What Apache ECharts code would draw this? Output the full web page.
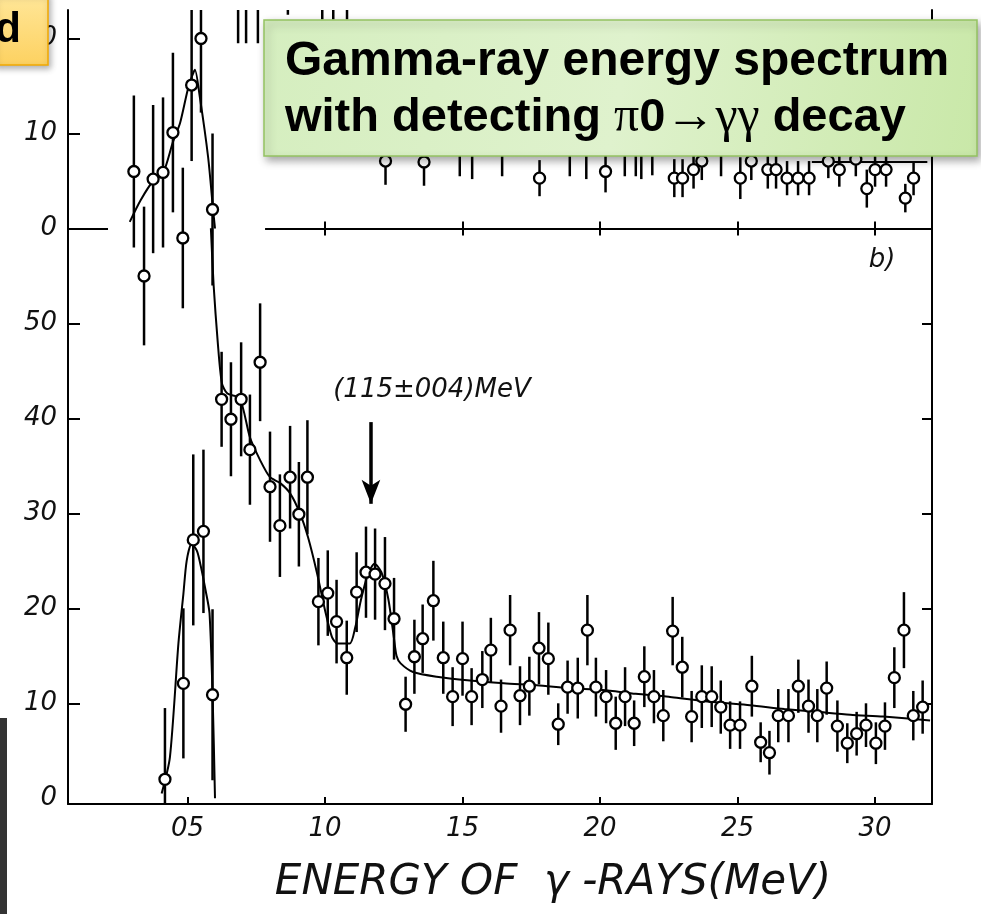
<!DOCTYPE html>
<html><head><meta charset="utf-8">
<script src="https://cdn.jsdelivr.net/npm/echarts@6/dist/echarts.min.js"></script>
<style>html,body{margin:0;padding:0;background:#fff;}#c{width:981px;height:914px;}</style>
</head><body><div id="c"></div>
<script>
// ---- tick labels ----
const xTicks = [5, 10, 15, 20, 25, 30];
const xTickLabels = ['05', '10', '15', '20', '25', '30'];
const yTicksLower = [0, 10, 20, 30, 40, 50];
const yTicksUpper = [0, 10, 20];

// ---- upper panel (b) ----
const upperE = [3.05,3.42,3.75,4.11,4.47,4.83,5.15,5.49,5.91, 6.84,7.13,7.56,8.65,9.9,10.3,10.8,
  12.2,13.6,14.9,15.35,16.44,17.8,18.9,19.5,20.2,20.9, 21.3,21.5,21.9,22.7,23.0,23.4,23.7,24.4,25.1,25.5,
  26.1,26.4,26.8,27.2,27.6,28.3,28.7,29.3,29.7,30.0, 30.4,31.1,31.4];
const upperCounts = [6.0,-5.0,5.2,5.9,10.1,-1.0,15.1,20.0,2.0, 27,27,26,28,28,28,28,
  7.1,7.0,9.5,9.0,9.0,5.3,9.5,9.0,6.0,9.5, 9.5,9.0,9.8,5.3,5.3,6.2,7.1,9.5,5.3,7.1,
  6.2,6.2,5.3,5.3,5.3,7.1,6.2,7.3,4.2,6.2, 6.2,3.2,5.3];
const upperErr = [8.0,7.3,7.8,7.9,8.4,7.4,8.0,7.8,8.0, 7.5,7.5,6.5,5.5,6,6,6,
  2.5,2.5,4.0,3.8,3.5,1.9,4.0,3.8,2.2,4.0, 4.0,3.8,4.2,2.0,2.0,2.0,2.0,4.0,2.2,2.0,
  2.0,2.0,1.8,1.8,1.8,1.8,1.8,1.8,2.0,1.8, 1.8,1.5,1.8];
const upperFitE = [2.9,3.3,3.75,4.11,4.47,4.73,5.0,5.16,5.27,5.45,5.75,5.93,6.0];
const upperFitV = [0.7,3.0,5.0,5.8,9.1,11.1,14.5,16.0,16.7,13.8,7.5,2.0,0.0];
const upperTailE = [27.7, 31.9];
const upperTailV = [7.0, 7.0];

// ---- lower panel ----
const lowerE = [4.18,4.85,5.21,5.58,5.91, 6.24,6.58,6.95,7.27,7.64,8.0,8.36,8.73,9.05,9.36,
  9.76,10.1,10.42,10.79,11.15,11.49,11.82,12.18,12.51,12.93, 13.25,13.55,13.94,14.3,14.64,15.0,15.33,15.72,16.03,16.4,
  16.73,17.09,17.43,17.78,18.12,18.48,18.82,19.19,19.54,19.85, 20.22,20.57,20.91,21.24,21.61,21.96,22.3,22.64,22.99,23.33,
  23.7,24.06,24.39,24.73,25.09,25.52,25.84,26.16,26.48,26.85, 27.21,27.58,27.9,28.24,28.63,28.99,29.33,29.67,30.03,30.36,
  30.7,31.05,31.39,31.73];
const lowerCounts = [2.0,12.1,27.2,28.1,10.9, 42.0,39.9,42.0,36.7,45.9,32.8,28.7,33.8,29.9,33.8,
  20.7,21.6,18.6,14.8,21.7,23.8,23.6,22.6,18.9,9.9, 14.9,16.8,20.8,14.8,10.7,14.7,10.7,12.5,15.6,9.7,
  17.7,10.8,11.8,15.8,14.7,7.8,11.7,11.6,17.7,11.7, 10.7,7.9,10.7,7.9,12.8,10.7,8.7,17.6,13.8,8.6,
  10.7,10.7,9.6,7.7,7.7,11.8,5.9,4.8,8.7,8.7, 11.8,9.7,8.7,11.6,7.6,5.8,6.8,7.7,5.8,7.6,
  12.7,17.7,8.7,9.6];
const lowerErr = [7.5,7.9,9.0,8.6,9.0, 5.0,6.0,6.0,5.8,6.2,5.8,5.4,5.4,5.5,6.0,
  4.6,4.5,4.4,3.9,4.2,4.8,4.8,4.9,4.3,2.9, 3.9,3.6,4.2,3.8,3.1,3.9,3.0,3.0,3.4,2.8,
  3.7,3.1,3.1,3.8,3.8,2.2,2.8,3.2,3.7,3.1, 2.8,2.8,3.1,2.4,3.2,2.8,2.7,3.6,3.2,2.7,
  3.3,3.2,2.8,2.5,2.5,3.2,2.1,2.3,2.8,2.8, 2.8,2.8,2.8,2.8,2.7,2.1,2.3,2.3,2.2,2.5,
  3.2,4.0,2.6,2.8];
const peakFitE = [4.06,4.36,4.67,4.85,4.97,5.15,5.35,5.5,5.65,5.8,5.92,6.0];
const peakFitV = [0.5,4.3,16.3,21.5,25.0,26.8,26.0,24.2,22.0,19.5,10.0,0.0];
const lowerFitE = [5.85,5.95,6.1,6.25,6.45,6.9,7.27,7.64,8.0,8.36,8.73,9.09,9.38,9.71,10.0,10.25,10.45,10.9,11.1,11.3,
  11.55,11.8,12.05,12.3,12.5,12.6,12.75,13.2,14.06,15.27,16.5,17.7,18.9,20.1,21.3,22.5,23.0,24.2,25.45,26.7,27.9,29.1,30.3,32.0];
const lowerFitV = [60,54,48,43.7,42.6,42.1,38,35.6,33.8,33.2,32.1,30,27.5,23.7,19.8,17,16.3,16.3,18,20.8,
  23.5,24.7,23.8,21,17,15,14.2,13.3,12.8,12.4,12.1,11.9,11.6,11.4,11.0,10.7,10.5,10.1,9.8,9.4,9.1,8.8,8.6,8.2];

// peak marker (annotation arrow)
const peakArrowE = 11.67;

// ---- helpers ----
const AX_MIN = 0.655, AX_MAX = 32.07;
const pts = (E, V) => E.map((e, i) => [e, V[i]]);
const bars = (E, V, S) => E.map((e, i) => [e, V[i] - S[i], V[i] + S[i]]);
function renderBar(params, api) {
  const a = api.coord([api.value(0), api.value(1)]);
  const b = api.coord([api.value(0), api.value(2)]);
  return { type: 'line', shape: { x1: a[0], y1: a[1], x2: b[0], y2: b[1] },
    style: { stroke: '#000', lineWidth: 2.5 } };
}
const labelFont = { fontFamily: 'DejaVu Sans', fontStyle: 'italic', fontSize: 26, color: '#111' };
const gridBox = { left: 68, right: 49, top: 10, height: 794 };
const circle = { symbol: 'circle', symbolSize: 11,
  itemStyle: { color: '#fff', borderColor: '#000', borderWidth: 2.3, opacity: 1 } };

const chart = echarts.init(document.getElementById('c'));
chart.setOption({
  animation: false,
  backgroundColor: '#fff',
  grid: [Object.assign({}, gridBox), Object.assign({}, gridBox)],
  xAxis: [
    { type: 'value', gridIndex: 0, min: AX_MIN, max: AX_MAX, position: 'bottom',
      axisLine: { show: true, onZero: true, onZeroAxisIndex: 0, lineStyle: { color: 'rgba(0,0,0,0)' } },
      axisTick: { show: true, inside: true, length: 7, customValues: xTicks.slice(1), lineStyle: { color: '#000', width: 2 } },
      axisLabel: { show: false }, splitLine: { show: false } },
    { type: 'value', gridIndex: 0, min: AX_MIN, max: AX_MAX, position: 'top',
      axisLine: { show: true, onZero: true, onZeroAxisIndex: 0, lineStyle: { color: 'rgba(0,0,0,0)' } },
      axisTick: { show: true, inside: true, length: 7, customValues: xTicks.slice(1), lineStyle: { color: '#000', width: 2 } },
      axisLabel: { show: false }, splitLine: { show: false } },
    { type: 'value', gridIndex: 1, min: AX_MIN, max: AX_MAX, position: 'bottom',
      axisLine: { show: true, onZero: false, lineStyle: { color: '#000', width: 2 } },
      axisTick: { show: true, inside: true, length: 7, customValues: xTicks, lineStyle: { color: '#000', width: 2 } },
      axisLabel: Object.assign({ customValues: xTicks, margin: 12,
        formatter: v => xTickLabels[xTicks.indexOf(v)] || '' }, labelFont),
      splitLine: { show: false } }
  ],
  yAxis: [
    { type: 'value', gridIndex: 0, min: -60.58, max: 23.0, position: 'left',
      axisLine: { show: false, onZero: false },
      axisTick: { show: true, inside: true, length: 12, customValues: yTicksUpper, lineStyle: { color: '#000', width: 2 } },
      axisLabel: Object.assign({ customValues: yTicksUpper, margin: 11 }, labelFont),
      splitLine: { show: false } },
    { type: 'value', gridIndex: 1, min: -0.6, max: 82.98, position: 'left',
      axisLine: { show: true, onZero: false, lineStyle: { color: '#000', width: 2 } },
      axisTick: { show: true, inside: true, length: 12, customValues: yTicksLower.slice(1), lineStyle: { color: '#000', width: 2 } },
      axisLabel: Object.assign({ customValues: yTicksLower, margin: 11 }, labelFont),
      splitLine: { show: false } },
    { type: 'value', gridIndex: 1, min: -0.6, max: 82.98, position: 'right',
      axisLine: { show: true, onZero: false, lineStyle: { color: '#000', width: 2 } },
      axisTick: { show: true, inside: true, length: 10, customValues: yTicksLower.slice(1), lineStyle: { color: '#000', width: 2 } },
      axisLabel: { show: false }, splitLine: { show: false } }
  ],
  series: [
    // upper panel
    { type: 'custom', xAxisIndex: 0, yAxisIndex: 0, renderItem: renderBar, clip: true,
      encode: { x: 0, y: [1, 2] }, data: bars(upperE, upperCounts, upperErr), z: 3 },
    { type: 'line', xAxisIndex: 0, yAxisIndex: 0, data: pts(upperFitE, upperFitV), symbol: 'none', smooth: 0.25,
      lineStyle: { color: '#000', width: 2 }, z: 4,
      markLine: { silent: true, symbol: 'none', label: { show: false }, lineStyle: { color: '#000', width: 2, type: 'solid' },
        data: [[{ coord: [AX_MIN, 0] }, { coord: [2.11, 0] }], [{ coord: [7.82, 0] }, { coord: [AX_MAX, 0] }]] } },
    { type: 'line', xAxisIndex: 0, yAxisIndex: 0, data: pts(upperTailE, upperTailV), symbol: 'none',
      lineStyle: { color: '#000', width: 2 }, z: 4 },
    Object.assign({ type: 'scatter', xAxisIndex: 0, yAxisIndex: 0, data: pts(upperE, upperCounts), z: 5 }, circle),
    // lower panel
    { type: 'custom', xAxisIndex: 2, yAxisIndex: 1, renderItem: renderBar, clip: true,
      encode: { x: 0, y: [1, 2] }, data: bars(lowerE, lowerCounts, lowerErr), z: 3 },
    { type: 'line', xAxisIndex: 2, yAxisIndex: 1, data: pts(peakFitE, peakFitV), symbol: 'none', smooth: 0.25,
      lineStyle: { color: '#000', width: 2 }, z: 4 },
    { type: 'line', xAxisIndex: 2, yAxisIndex: 1, data: pts(lowerFitE, lowerFitV), symbol: 'none', smooth: 0.25,
      lineStyle: { color: '#000', width: 2 }, z: 4,
      markLine: { silent: true, symbol: ['none', 'arrow'], symbolSize: [14, 24], label: { show: false },
        lineStyle: { color: '#000', width: 3.5, type: 'solid' },
        data: [[{ coord: [peakArrowE, 39.6] }, { coord: [peakArrowE, 31.0] }]] } },
    Object.assign({ type: 'scatter', xAxisIndex: 2, yAxisIndex: 1, data: pts(lowerE, lowerCounts), z: 5 }, circle)
  ],
  graphic: [
    { type: 'rect', z: 100, shape: { x: 0, y: 718, width: 7, height: 196 }, style: { fill: '#333' } },
    { type: 'text', z: 50, x: 432, y: 390, style: { text: '(115±004)MeV', fontFamily: 'DejaVu Sans', fontStyle: 'italic',
        fontSize: 26, fill: '#111', align: 'center', verticalAlign: 'middle' } },
    { type: 'text', z: 50, x: 882, y: 260, style: { text: 'b)', fontFamily: 'DejaVu Sans', fontStyle: 'italic',
        fontSize: 26, fill: '#111', align: 'center', verticalAlign: 'middle' } },
    { type: 'text', z: 50, x: 553, y: 883, style: { text: 'ENERGY OF  γ -RAYS(MeV)', fontFamily: 'DejaVu Sans', fontStyle: 'italic',
        fontSize: 42, fill: '#111', align: 'center', verticalAlign: 'middle' } },
    // green title box
    { type: 'rect', z: 100, shape: { x: 264, y: 20, width: 713, height: 136 },
      style: { fill: new echarts.graphic.LinearGradient(0, 0, 1, 1, [
          { offset: 0, color: '#d5eebf' }, { offset: 0.5, color: '#dff2cd' }, { offset: 1, color: '#c9e8a8' }]),
        stroke: '#94c262', lineWidth: 1.5, shadowBlur: 8, shadowOffsetX: 3, shadowOffsetY: 4, shadowColor: 'rgba(0,0,0,0.35)' } },
    { type: 'text', z: 101, x: 285, y: 62, style: { text: 'Gamma-ray energy spectrum', fontFamily: 'Liberation Sans',
        fontWeight: 'bold', fontSize: 48, fill: '#000', align: 'left', verticalAlign: 'middle' } },
    { type: 'text', z: 101, x: 285, y: 118, style: {
        text: '{a|with detecting }{g|π}{a|0}{g|→γγ}{a| decay}', align: 'left', verticalAlign: 'middle',
        rich: { a: { fontFamily: 'Liberation Sans', fontWeight: 'bold', fontSize: 47, fill: '#000' },
                g: { fontFamily: 'Liberation Serif', fontSize: 50, fill: '#000' } } } },
    // orange tag box
    { type: 'rect', z: 100, shape: { x: -6, y: -6, width: 54, height: 71 },
      style: { fill: new echarts.graphic.LinearGradient(0, 0, 0, 1, [
          { offset: 0, color: '#ffe79a' }, { offset: 1, color: '#fdd160' }]),
        stroke: '#f2a900', lineWidth: 1.5, shadowBlur: 6, shadowOffsetX: 2, shadowOffsetY: 3, shadowColor: 'rgba(0,0,0,0.3)' } },
    { type: 'text', z: 101, x: 21, y: 30, style: { text: 'd', fontFamily: 'Liberation Sans', fontWeight: 'bold',
        fontSize: 42, fill: '#000', align: 'right', verticalAlign: 'middle' } }
  ]
});
</script></body></html>
